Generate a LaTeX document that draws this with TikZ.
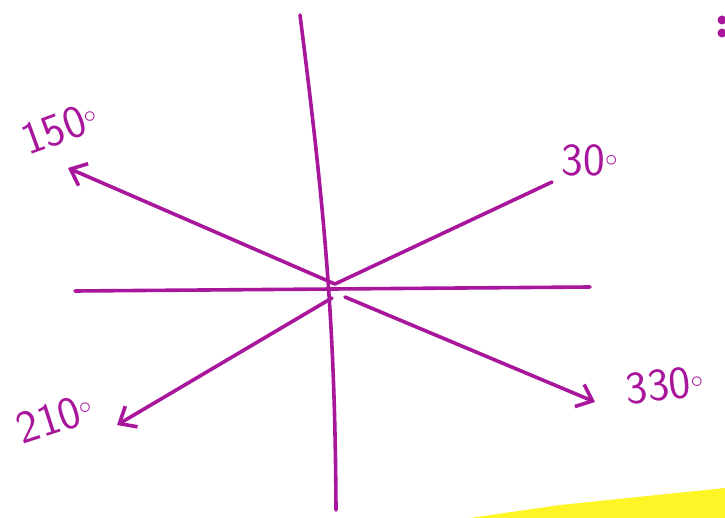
\documentclass[tikz,border=0pt]{standalone}
\usetikzlibrary{arrows.meta}

\begin{document}
\begin{tikzpicture}[x=1pt, y=-1pt]
    % Define colours
    \definecolor{penColour}{HTML}{A8169C}
    \definecolor{markerColour}{HTML}{FFF200}

    % Define styles
    \tikzset{
        axisline/.style={draw=penColour, line width=3.6pt, line cap=round},
        rayarrow/.style={axisline, -{Straight Barb[length=14pt, width=24pt, line width=3.6pt]}},
        anglelabel/.style={text=penColour, font=\sffamily\fontsize{46}{46}\selectfont, inner sep=0pt}
    }

    % Fix the frame
    \useasboundingbox (0,0) rectangle (725,518);

    % Marker stripe, bottom right
    \fill[markerColour, opacity=0.85] (470,518) -- (560,505) -- (725,488) -- (725,518) -- cycle;

    % Marks at top right
    \fill[penColour] (722,20) circle (4.5pt);
    \fill[penColour] (722,33) circle (4.5pt);

    % Define coordinates
    \coordinate (O) at (335,284);
    \coordinate (P150) at (68,168);
    \coordinate (P30) at (552,182);
    \coordinate (P330) at (595,402);
    \coordinate (P210) at (117,425);

    % Draw axes
    \draw[axisline] (300,15) .. controls (326,220) and (335,330) .. (336,510);
    \draw[axisline] (75,291) -- (590,287);

    % Draw rays
    \draw[rayarrow] (O) -- (P150);
    \draw[axisline] (O) -- (P30);
    \draw[rayarrow] (345,297) -- (P330);
    \draw[rayarrow] (332,298) -- (P210);

    % Label the rays
    \node[anglelabel, rotate=20] (L150) at (60,128) {150$^{\circ}$};
    \node[anglelabel] (L30) at (590,160) {30$^{\circ}$};
    \node[anglelabel, rotate=6] (L330) at (665,385) {330$^{\circ}$};
    \node[anglelabel, rotate=18] (L210) at (55,418) {210$^{\circ}$};

\end{tikzpicture}
\end{document}
